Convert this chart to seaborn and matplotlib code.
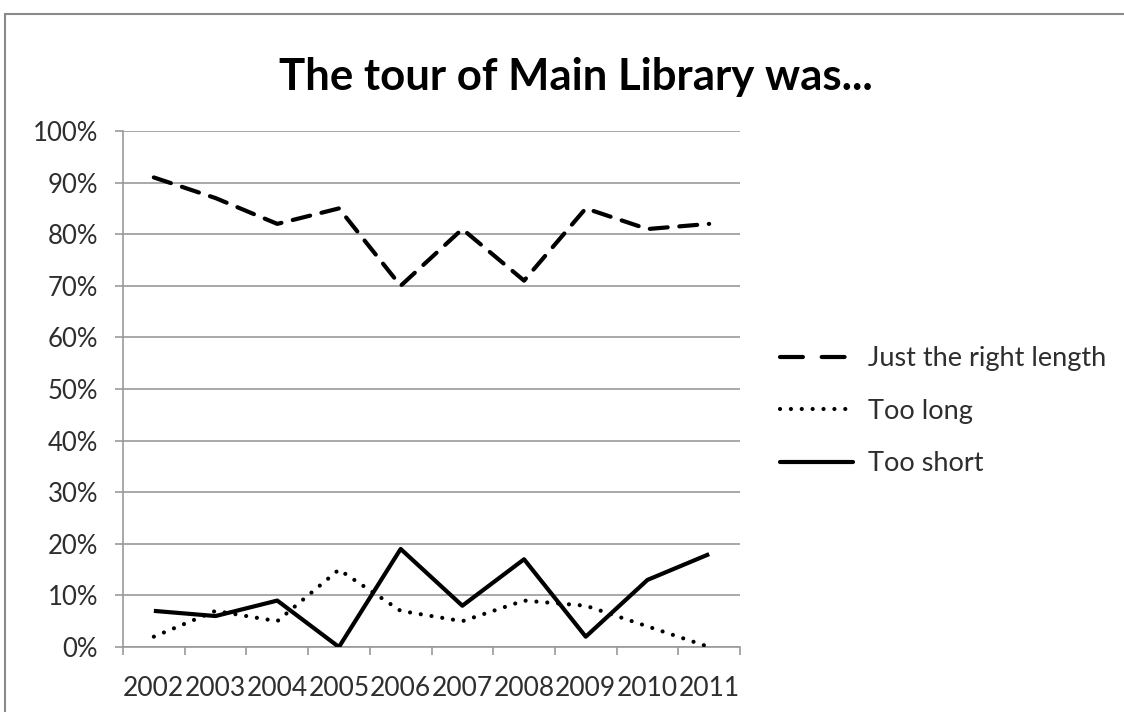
import matplotlib
matplotlib.use("Agg")
import matplotlib.pyplot as plt
from matplotlib.lines import Line2D
import seaborn as sns
import pandas as pd

years = ["2002", "2003", "2004", "2005", "2006", "2007", "2008", "2009", "2010", "2011"]
just_right = [91, 87, 82, 85, 70, 81, 71, 85, 81, 82]
too_long = [2, 7, 5, 15, 7, 5, 9, 8, 4, 0]
too_short = [7, 6, 9, 0, 19, 8, 17, 2, 13, 18]
series_names = ["Just the right length", "Too long", "Too short"]
y_ticks = [0, 10, 20, 30, 40, 50, 60, 70, 80, 90, 100]

rows = []
for name, vals in zip(series_names, [just_right, too_long, too_short]):
    for i, v in enumerate(vals):
        rows.append({"idx": i, "year": years[i], "pct": v, "series": name})
df = pd.DataFrame(rows)

sns.set_theme(style="white")
plt.rcParams["font.family"] = ["Lato", "DejaVu Sans"]

fig = plt.figure(figsize=(11.24, 7.12), dpi=100)
ax = fig.add_axes([123 / 1124, 1 - 647 / 712, (740 - 123) / 1124, (647 - 131) / 712])

LW = 3.0
dash_long = (4.3, 2.8)
dash_dot = (0.01, 2.6)
dash_map = {"Just the right length": dash_long, "Too long": dash_dot, "Too short": ""}
sns.lineplot(data=df, x="idx", y="pct", hue="series", style="series",
             palette={n: "black" for n in series_names}, dashes=dash_map,
             linewidth=LW, ax=ax, legend=False, hue_order=series_names,
             style_order=series_names)

grid_c = "#9a9a9a"
text_c = "#2e2e2e"
for ln in ax.get_lines():
    ln.set_dash_capstyle("round")
    ln.set_solid_capstyle("butt")
    ln.set_zorder(3)

ax.set_xlim(-0.5, len(years) - 0.5)
ax.set_ylim(0, 100)
ax.set_yticks(y_ticks)
ax.set_yticklabels([f"{t}%" for t in y_ticks])
ax.yaxis.grid(True, color=grid_c, linewidth=1.2)
ax.set_axisbelow(True)

# category boundaries carry the tick marks; labels sit at the centres
ax.set_xticks([i - 0.5 for i in range(len(years) + 1)])
ax.set_xticklabels([])
ax.set_xticks(range(len(years)), minor=True)
ax.set_xticklabels(years, minor=True)
ax.tick_params(axis="x", which="major", length=6, width=1.2, color=grid_c, direction="out")
ax.tick_params(axis="x", which="minor", length=0, pad=21, labelsize=19, labelcolor=text_c)
ax.tick_params(axis="y", length=6, width=1.2, color=grid_c, direction="out", pad=12,
               labelsize=18.5, labelcolor=text_c)
ax.tick_params(bottom=True, left=True)

for side in ["top", "right"]:
    ax.spines[side].set_visible(False)
for side in ["left", "bottom"]:
    ax.spines[side].set_color(grid_c)
    ax.spines[side].set_linewidth(1.2)

ax.set_xlabel("")
ax.set_ylabel("")

handles = [Line2D([], [], color="black", linewidth=LW, dashes=(5.5, 4.5),
                  dash_capstyle="round"),
           Line2D([], [], color="black", linewidth=LW, dashes=dash_dot,
                  dash_capstyle="round"),
           Line2D([], [], color="black", linewidth=LW)]
leg = fig.legend(handles, series_names, loc="upper left",
                 bbox_to_anchor=(780 / 1124, 1 - 346 / 712), frameon=False,
                 handlelength=2.7, handletextpad=0.55, labelspacing=1.02,
                 fontsize=19.5, borderaxespad=0, borderpad=0)
for t in leg.get_texts():
    t.set_color(text_c)

fig.text(0.5125, 1 - 77 / 712, "The tour of Main Library was...", ha="center", va="center",
         fontsize=31.5, fontweight="bold", color="black")

# outer chart frame
fig.add_artist(Line2D([5 / 1124, 5 / 1124], [0, 1 - 14 / 712], transform=fig.transFigure,
                      color="#8a8a8a", linewidth=1.5))
fig.add_artist(Line2D([5 / 1124, 1], [1 - 14 / 712, 1 - 14 / 712], transform=fig.transFigure,
                      color="#8a8a8a", linewidth=1.5))

fig.savefig("out.png", dpi=100, facecolor="white")
